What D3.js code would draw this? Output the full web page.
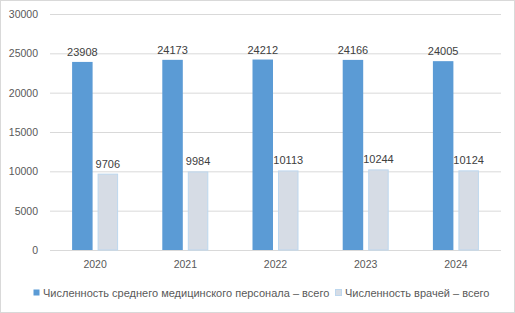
<!DOCTYPE html>
<html><head><meta charset="utf-8">
<script src="https://cdn.jsdelivr.net/npm/d3@7"></script>
<style>body{margin:0;background:#fff}svg{display:block}</style>
</head><body><svg id="c" width="515" height="313"></svg>
<script>
const years = ["2020","2021","2022","2023","2024"];
const nurses = [23908, 24173, 24212, 24166, 24005];
const doctors = [9706, 9984, 10113, 10244, 10124];
const seriesNames = ["Численность среднего медицинского персонала – всего", "Численность врачей – всего"];
const yTicks = [0, 5000, 10000, 15000, 20000, 25000, 30000];

const W = 515, H = 313;
const m = {l: 50, r: 14, t: 14, b: 63};
const svg = d3.select("#c");
const font = "'Liberation Sans', Arial, sans-serif";
svg.append("rect").attr("x",0.5).attr("y",0.5).attr("width",W-1).attr("height",H-1)
  .attr("fill","#fff").attr("stroke","#d9d9d9");

const x = d3.scaleBand().domain(years).range([m.l, W - m.r]).paddingInner(0).paddingOuter(0);
const y = d3.scaleLinear().domain([0, 30000]).range([H - m.b, m.t]);

const yAxis = d3.axisLeft(y).tickValues(yTicks).tickFormat(d3.format("d")).tickSize(-(W - m.l - m.r)).tickPadding(12);
const gy = svg.append("g").attr("transform", `translate(${m.l},0)`).call(yAxis);
gy.select(".domain").remove();
gy.selectAll(".tick line").attr("stroke", "#d9d9d9");
gy.selectAll(".tick text").attr("fill", "#595959").style("font", `10.5px ${font}`);

const xAxis = d3.axisBottom(x).tickSize(0).tickPadding(11);
const gx = svg.append("g").attr("transform", `translate(0,${H - m.b})`).call(xAxis);
gx.select(".domain").remove();
gx.selectAll(".tick text").attr("fill", "#595959").style("font", `10.5px ${font}`);

const bw = 20.5, gap = 5;
const series = [
  {vals: nurses, fill: "#5b9bd5", stroke: "none", off: -gap/2 - bw},
  {vals: doctors, fill: "#d6dce5", stroke: "#bdd7ee", off: gap/2}
];
series.forEach(s => {
  const g = svg.append("g");
  const st = s.stroke !== "none";
  g.selectAll("rect").data(years).join("rect")
    .attr("x", (d) => x(d) + x.bandwidth()/2 + s.off + (st?0.5:0))
    .attr("y", (d,i) => y(s.vals[i]) + (st?0.5:0))
    .attr("width", bw - (st?1:0))
    .attr("height", (d,i) => y(0) - y(s.vals[i]) - (st?0.5:0))
    .attr("fill", s.fill).attr("stroke", s.stroke);
  g.selectAll("text").data(years).join("text")
    .attr("x", (d) => x(d) + x.bandwidth()/2 + s.off + bw/2)
    .attr("y", (d,i) => y(s.vals[i]) - 6)
    .attr("text-anchor", "middle")
    .attr("fill", "#404040").style("font", `11px ${font}`)
    .text((d,i) => s.vals[i]);
});

// legend
const lg = svg.append("g").attr("transform", "translate(0,293)");
const items = [
  {name: seriesNames[0], fill: "#5b9bd5", stroke: "none", x: 33},
  {name: seriesNames[1], fill: "#d6dce5", stroke: "#bdd7ee", x: 335}
];
items.forEach(it => {
  lg.append("rect").attr("x", it.x + 0.5).attr("y", -3.5).attr("width", 6).attr("height", 6)
    .attr("fill", it.fill).attr("stroke", it.stroke);
  lg.append("text").attr("x", it.x + 10).attr("y", 0).attr("dy", "0.35em")
    .attr("fill", "#595959").style("font", `11px ${font}`).text(it.name);
});
</script></body></html>
